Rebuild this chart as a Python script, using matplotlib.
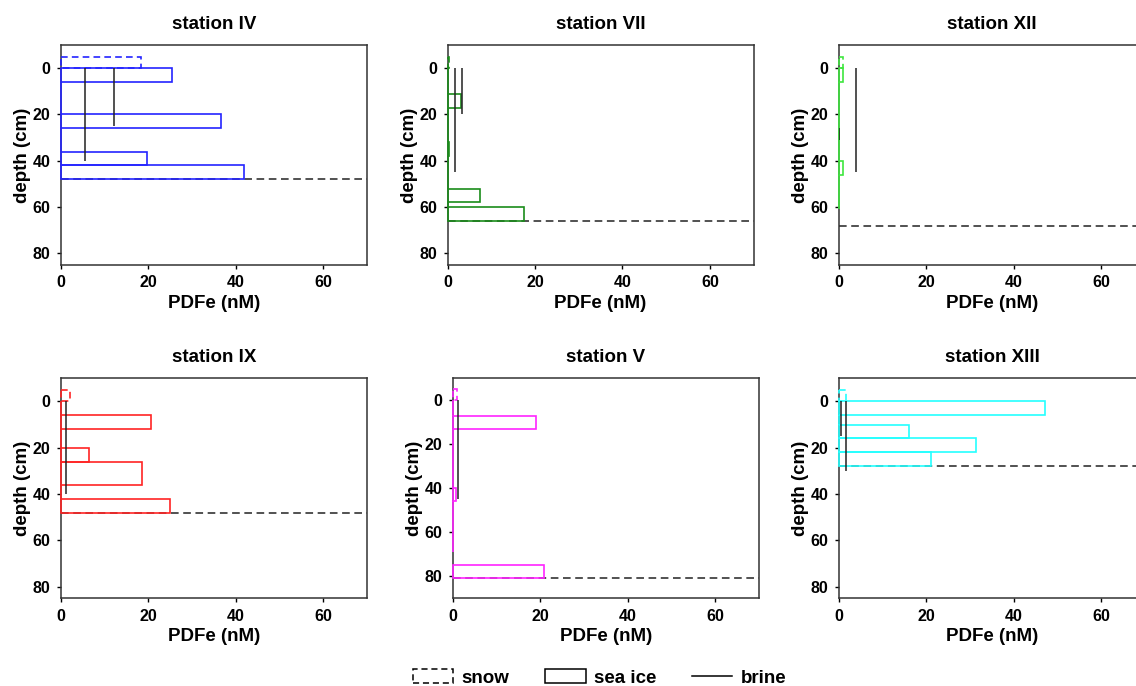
import matplotlib

matplotlib.use("Agg")
import matplotlib.pyplot as plt
from matplotlib.lines import Line2D
from matplotlib.patches import Rectangle

plt.rcParams["font.family"] = ["Liberation Sans", "DejaVu Sans"]
plt.rcParams["font.weight"] = "bold"

stations = ["station IV", "station VII", "station XII", "station IX", "station V", "station XIII"]
colors = ["#2424ff", "#1a8c1a", "#3ee63e", "#ff2424", "#ff24ff", "#24ffff"]

# snow layer (-5..0 cm) PDFe
snow_value = [18.2, 0.3, 0.9, 2.0, 0.9, 1.5]

# sea-ice sections: top depth, bottom depth, PDFe
ice_top = [
    [0, 6, 20, 26, 36, 42],
    [0, 11, 17, 32, 38, 52, 58, 60],
    [0, 6, 40, 46],
    [0, 6, 12, 20, 26, 36, 42],
    [0, 7, 13, 40, 46, 75],
    [0, 6, 10, 16, 22],
]
ice_bottom = [
    [6, 20, 26, 36, 42, 48],
    [11, 17, 32, 38, 52, 58, 60, 66],
    [6, 40, 46, 61],
    [6, 12, 20, 26, 36, 42, 48],
    [7, 13, 40, 46, 69, 81],
    [6, 10, 16, 22, 28],
]
ice_value = [
    [25.5, 0, 36.5, 0, 19.7, 41.8],
    [0, 3.0, 0, 0.3, 0, 7.4, 0, 17.4],
    [1.0, 0, 0.9, 0],
    [0, 20.6, 0, 6.3, 18.6, 0, 25.0],
    [0, 19.1, 0, 0.7, 0, 20.8],
    [47.2, 0, 15.9, 31.4, 21.0],
]

# brine: PDFe, depth range
brine_value = [[5.6, 12.1], [1.6, 3.35], [3.9, 0.1], [1.1], [1.2], [1.5, 0.4]]
brine_top = [[0, 0], [0, 0], [0, 26], [0], [0], [0, 0]]
brine_bottom = [[40, 25], [45, 20], [45, 31], [40], [45], [30, 15]]

ice_base = [48, 66, 68, 48, 81, 28]
depth_max = [85, 85, 85, 85, 90, 85]

fig = plt.figure(figsize=(11.36, 6.86), dpi=100)
lefts = [0.0537, 0.394, 0.7386, 0.0537, 0.3985, 0.7386]
bottoms = [0.6137, 0.6137, 0.6137, 0.128, 0.128, 0.128]

for i, name in enumerate(stations):
    ax = fig.add_axes([lefts[i], bottoms[i], 0.2694, 0.3207])
    c = colors[i]
    ax.barh(-5, snow_value[i], height=5, left=0, align="edge", fill=False,
            edgecolor=c, linestyle=(0, (4, 2.5)), linewidth=1.2, zorder=3, clip_on=False)
    for top, bot, val in zip(ice_top[i], ice_bottom[i], ice_value[i]):
        ax.barh(top, val, height=bot - top, left=0, align="edge", fill=False,
                edgecolor=c, linewidth=1.2, zorder=3, clip_on=False)
    ax.vlines(brine_value[i], brine_top[i], brine_bottom[i], color="#222222", linewidth=1.1, zorder=4)
    ax.axhline(ice_base[i], color="#222222", linestyle=(0, (5, 3)), linewidth=1.1, zorder=2)
    ax.set_xlim(0, 70)
    ax.set_ylim(depth_max[i], -10)
    ax.set_xticks([0, 20, 40, 60])
    ax.set_yticks([0, 20, 40, 60, 80])
    ax.tick_params(direction="out", length=3, width=1, labelsize=11.5, pad=4.5)
    for lab in ax.get_xticklabels() + ax.get_yticklabels():
        lab.set_fontweight("bold")
    for sp in ax.spines.values():
        sp.set_linewidth(1.1)
        sp.set_color("#333333")
    ax.set_title(name, fontsize=13.5, fontweight="bold", pad=11.5)
    ax.set_xlabel("PDFe (nM)", fontsize=13.5, fontweight="bold", labelpad=3)
    ax.set_ylabel("depth (cm)", fontsize=13.5, fontweight="bold", labelpad=1)

handles = [
    Rectangle((0, 0), 1, 1, fill=False, edgecolor="black", linestyle=(0, (4, 2.5)), linewidth=1.1),
    Rectangle((0, 0), 1, 1, fill=False, edgecolor="black", linewidth=1.1),
    Line2D([], [], color="black", linewidth=1.1),
]
fig.legend(handles, ["snow", "sea ice", "brine"], loc="center", bbox_to_anchor=(0.528, 0.012),
           ncol=3, frameon=False, prop={"weight": "bold", "size": 13.5},
           handlelength=2.15, handleheight=0.8, columnspacing=1.9, handletextpad=0.45)

fig.savefig("out.png", dpi=100)
